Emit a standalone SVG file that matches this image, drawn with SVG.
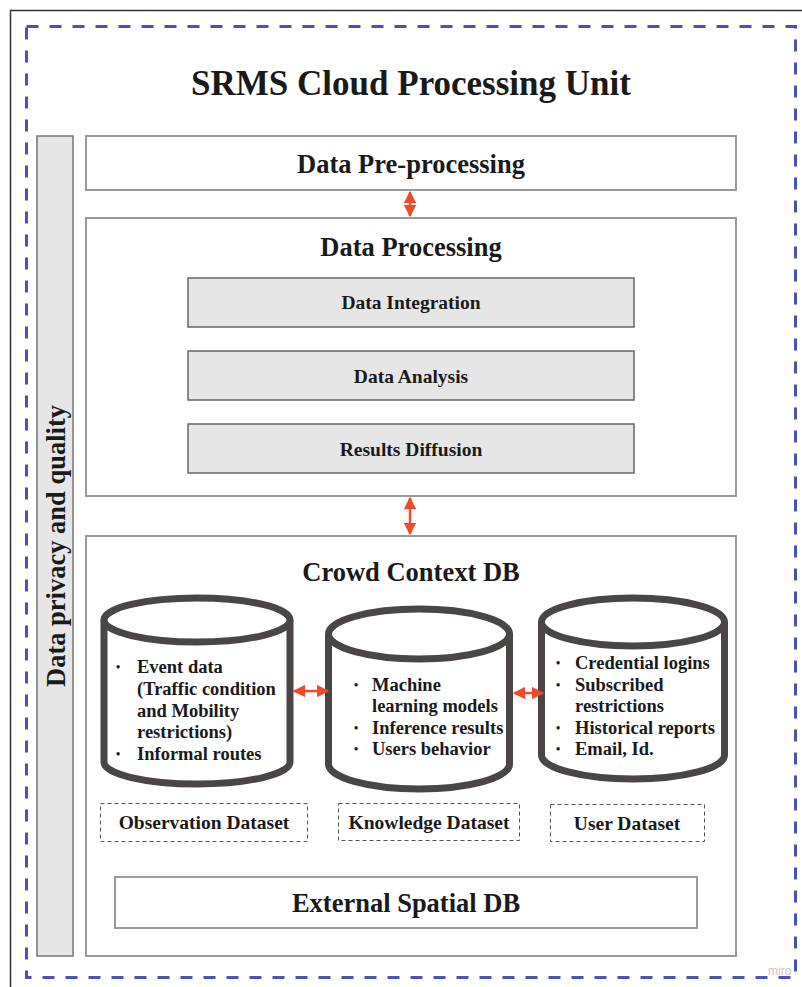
<svg xmlns="http://www.w3.org/2000/svg" width="802" height="987" viewBox="0 0 802 987">
<defs>
<style>
text{font-family:"Liberation Serif","Times New Roman",serif;font-weight:bold;fill:#1a1a1a}
.h{font-size:26.5px;text-anchor:middle}
.m{font-size:19.5px;text-anchor:middle}
.b{font-size:18.5px}
.d{font-size:12px}
.box{fill:#fff;stroke:#9a9a9a;stroke-width:2}
.gbox{fill:#e6e6e6;stroke:#666;stroke-width:1.5}
.cyl{fill:#fff;stroke:#4a4646;stroke-width:7}
.dl{fill:#fff;stroke:#555;stroke-width:1;stroke-dasharray:4 3}
.arr{stroke:#f04a2a;stroke-width:2.5;fill:none;marker-start:url(#ah);marker-end:url(#ah)}
</style>
<marker id="ah" viewBox="0 0 10 10" refX="9" refY="5" markerWidth="5" markerHeight="5" orient="auto-start-reverse" markerUnits="strokeWidth">
<path d="M0,0 L10,5 L0,10 z" fill="#f04a2a"/>
</marker>
</defs>
<rect x="0" y="0" width="802" height="987" fill="#fff"/>
<path d="M10.5,987 V10.5 H802" fill="none" stroke="#333" stroke-width="1.5"/>
<rect x="26.5" y="26.5" width="769" height="951" fill="none" stroke="#4a52b8" stroke-width="3" stroke-dasharray="12 11"/>
<text x="411" y="95" style="font-size:35px;text-anchor:middle">SRMS Cloud Processing Unit</text>

<g id="privacy">
<rect x="37" y="136" width="36" height="820" class="gbox" style="stroke:#777"/>
<text transform="translate(65,546) rotate(-90)" class="h">Data privacy and quality</text>
</g>

<g id="preprocessing">
<rect x="86" y="136" width="650" height="54" class="box"/>
<text x="411" y="173" class="h">Data Pre-processing</text>
</g>

<g id="processing">
<rect x="86" y="218" width="650" height="278" class="box"/>
<text x="411" y="256" class="h">Data Processing</text>
</g>
<g id="integration">
<rect x="188" y="278" width="446" height="49" class="gbox"/>
<text x="411" y="309" class="m">Data Integration</text>
</g>
<g id="analysis">
<rect x="188" y="351" width="446" height="49" class="gbox"/>
<text x="411" y="383" class="m">Data Analysis</text>
</g>
<g id="diffusion">
<rect x="188" y="424" width="446" height="49" class="gbox"/>
<text x="411" y="456" class="m">Results Diffusion</text>
</g>

<g id="crowd">
<rect x="86" y="536" width="650" height="420" class="box"/>
<text x="411" y="581" class="h">Crowd Context DB</text>
</g>

<g id="observation">
<path class="cyl" d="M104,620 A93,22 0 0 1 290,620 V762 A93,22 0 0 1 104,762 Z"/>
<path class="cyl" fill="none" d="M104,620 A93,22 0 0 0 290,620"/>
<g class="b">
<text x="116" y="671" class="d">•</text>
<text x="137" y="673">Event data</text>
<text x="137" y="695">(Traffic condition</text>
<text x="137" y="717">and Mobility</text>
<text x="137" y="738">restrictions)</text>
<text x="116" y="758" class="d">•</text>
<text x="137" y="760">Informal routes</text>
</g>
<rect x="100.5" y="803.5" width="207" height="38" class="dl"/>
<text x="204" y="829" class="m">Observation Dataset</text>
</g>

<g id="knowledge">
<path class="cyl" d="M328.5,634 A90.5,25 0 0 1 509.5,634 V764 A90.5,25 0 0 1 328.5,764 Z"/>
<path class="cyl" fill="none" d="M328.5,634 A90.5,25 0 0 0 509.5,634"/>
<g class="b">
<text x="354" y="689" class="d">•</text>
<text x="372" y="691">Machine</text>
<text x="372" y="712">learning models</text>
<text x="354" y="732" class="d">•</text>
<text x="372" y="734">Inference results</text>
<text x="354" y="753" class="d">•</text>
<text x="372" y="755">Users behavior</text>
</g>
<rect x="338.5" y="803.5" width="181" height="37" class="dl"/>
<text x="429" y="829" class="m">Knowledge Dataset</text>
</g>

<g id="user">
<path class="cyl" d="M541.5,622 A91.5,24 0 0 1 724.5,622 V755 A91.5,24 0 0 1 541.5,755 Z"/>
<path class="cyl" fill="none" d="M541.5,622 A91.5,24 0 0 0 724.5,622"/>
<g class="b">
<text x="556" y="667" class="d">•</text>
<text x="575" y="669">Credential logins</text>
<text x="556" y="689" class="d">•</text>
<text x="575" y="691">Subscribed</text>
<text x="575" y="712">restrictions</text>
<text x="556" y="732" class="d">•</text>
<text x="575" y="734">Historical reports</text>
<text x="556" y="753" class="d">•</text>
<text x="575" y="755">Email, Id.</text>
</g>
<rect x="550.5" y="804.5" width="154" height="37" class="dl"/>
<text x="627" y="830" class="m">User Dataset</text>
</g>

<g id="external">
<rect x="115" y="877" width="582" height="51" class="box"/>
<text x="406" y="912" class="h">External Spatial DB</text>
</g>

<g id="connectors">
<line x1="410" y1="192" x2="410" y2="216" class="arr"/>
<line x1="410" y1="498" x2="410" y2="534" class="arr"/>
<line x1="294" y1="691" x2="328" y2="691" class="arr"/>
<line x1="514" y1="693" x2="543" y2="693" class="arr"/>
</g>

<text x="768" y="975" style="font-family:'Liberation Sans',sans-serif;font-weight:normal;font-size:12px;fill:#c8c8c8">miro</text>
</svg>
